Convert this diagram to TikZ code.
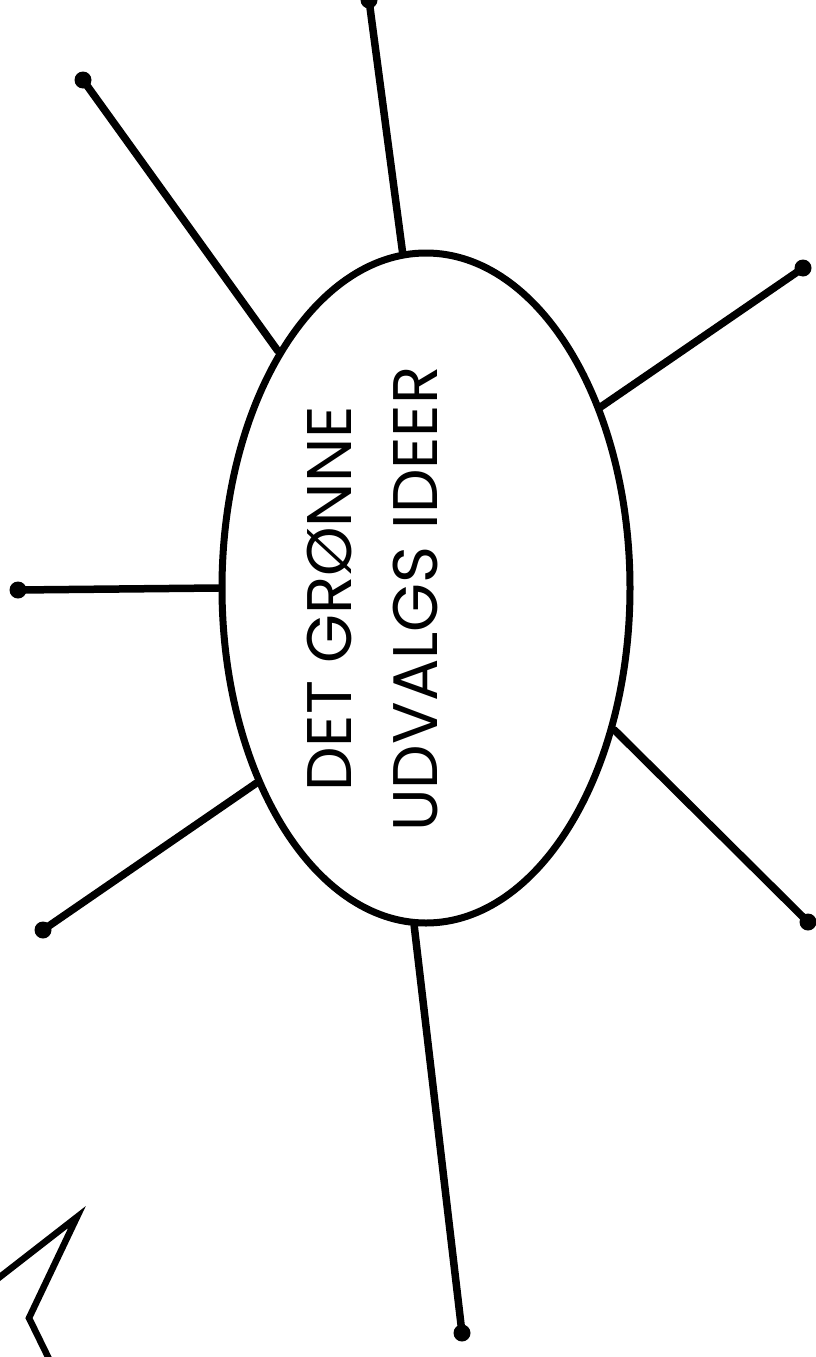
\documentclass[tikz,border=0pt]{standalone}
\usepackage{fontspec}
\setmainfont{Poppins}
\usetikzlibrary{shapes.geometric}

\begin{document}
\begin{tikzpicture}[x=1pt, y=-1pt,
  idea/.style={ellipse, draw=black, line width=7pt, minimum width=408pt,
               minimum height=670pt, inner sep=0pt},
  heading/.style={rotate=90, align=center, inner sep=0pt,
                  font=\fontsize{63}{86}\selectfont},
  tip/.style={circle, fill=black, inner sep=0pt, minimum size=17pt},
  spoke/.style={line width=7.5pt, line cap=round},
  scribble/.style={line width=6.5pt, line join=miter}
]

%% ---- CANVAS ----
\fill[white] (0,0) rectangle (815,1357);
\useasboundingbox (0,0) rectangle (815,1357);

%% ---- CENTRE: the idea bubble ----
\node[idea] (bubble) at (426,588) {};
\node[heading] (title) at (373,599) {DET GRØNNE\\UDVALGS IDEER};

%% ---- SPOKES: loose ends ----
\node[tip] (n)  at (369,0)    {};
\node[tip] (nw) at (83,80)    {};
\node[tip] (ne) at (803,268)  {};
\node[tip] (w)  at (18,590)   {};
\node[tip] (sw) at (43,930)   {};
\node[tip] (se) at (808,922)  {};
\node[tip] (s)  at (462,1333) {};

\draw[spoke] (bubble.94.5)  -- (n.center);
\draw[spoke] (bubble.122.9) -- (nw.center);
\draw[spoke] (bubble.46.9)  -- (ne.center);
\draw[spoke] (bubble.180)   -- (w.center);
\draw[spoke] (bubble.229)   -- (sw.center);
\draw[spoke] (bubble.323)   -- (se.center);
\draw[spoke] (bubble.268.6) -- (s.center);

%% ---- CORNER: pen stroke at the bottom left ----
\draw[scribble] (-4,1280) -- (77,1217) -- (29,1318) -- (52,1365);

\end{tikzpicture}
\end{document}
